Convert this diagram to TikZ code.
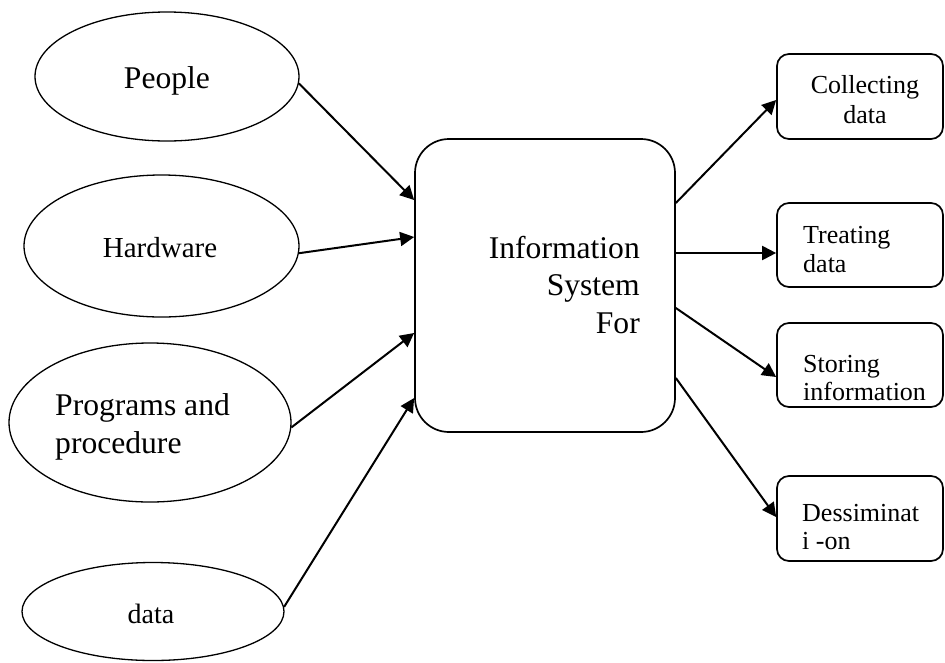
\documentclass[tikz,border=0pt]{standalone}
\usepackage{fontspec}
\setmainfont{Liberation Serif}
\usetikzlibrary{shapes.geometric,arrows.meta}
\begin{document}
\begin{tikzpicture}[x=1pt,y=-1pt,
  oval/.style={draw,ellipse,line width=1.3pt,inner sep=0pt},
  rbox/.style={draw,rectangle,rounded corners=12pt,line width=1.7pt,inner sep=0pt,minimum width=166pt},
  cbox/.style={draw,rectangle,rounded corners=34pt,line width=1.7pt,inner sep=0pt},
  arr/.style={line width=2pt,-{Triangle[length=14pt,width=14pt]}},
  big/.style={font=\fontsize{31.6}{37}\selectfont,inner sep=0pt},
  mid/.style={font=\fontsize{29}{34}\selectfont,inner sep=0pt},
  small/.style={font=\fontsize{26}{30}\selectfont,inner sep=0pt}]
\useasboundingbox (0,0) rectangle (945,662);
% left ellipses
\node[oval,minimum width=264pt,minimum height=129pt] (people) at (167,76.5) {};
\node[oval,minimum width=275pt,minimum height=142pt] (hw) at (161.5,246) {};
\node[oval,minimum width=282pt,minimum height=159pt] (prog) at (150,422.5) {};
\node[oval,minimum width=262pt,minimum height=98pt] (data) at (153,611.5) {};
\node[big,anchor=base] (tpeople) at (167,88) {People};
\node[mid,anchor=base] (thw) at (160,257) {Hardware};
\node[big,anchor=base west] (tprog1) at (55,415) {Programs and};
\node[big,anchor=base west] (tprog2) at (55,453) {procedure};
\node[mid,font=\fontsize{28}{32}\selectfont,anchor=base] (tdata) at (151,623) {data};
% central box
\node[cbox,minimum width=260pt,minimum height=293pt] (isys) at (545,285.5) {};
\node[big,anchor=base east] (tis1) at (640,258) {Information};
\node[big,anchor=base east] (tis2) at (640,295) {System};
\node[big,anchor=base east] (tis3) at (640,333) {For};
% right boxes
\node[rbox,minimum height=85pt] (coll) at (860,96.5) {};
\node[rbox,minimum height=84pt] (treat) at (860,245) {};
\node[rbox,minimum height=84pt] (stor) at (860,365) {};
\node[rbox,minimum height=85pt] (dess) at (860,518.5) {};
\node[small,anchor=base] (tcoll1) at (865,93) {Collecting};
\node[small,anchor=base] (tcoll2) at (865,123) {data};
\node[small,anchor=base west] (ttreat1) at (803,243) {Treating};
\node[small,anchor=base west] (ttreat2) at (803,272) {data};
\node[small,anchor=base west] (tstor1) at (803,372) {Storing};
\node[small,anchor=base west] (tstor2) at (803,400) {information};
\node[small,anchor=base west] (tdess1) at (802,521) {Dessiminat};
\node[small,anchor=base west] (tdess2) at (802,549) {i -on};
% arrows in
\draw[arr] (people.-3) -- ([yshift=85.5pt]isys.west);
\draw[arr] (hw.-3) -- ([yshift=48.5pt]isys.west);
\draw[arr] (prog.-2) -- ([yshift=-47.5pt]isys.west);
\draw[arr] (data.2) -- ([yshift=-112.5pt]isys.west);
% arrows out
\draw[arr] ([yshift=82.5pt]isys.east) -- ([yshift=-3.5pt]coll.west);
\draw[arr] ([yshift=32.5pt]isys.east) -- ([yshift=-8pt]treat.west);
\draw[arr] ([yshift=-22.5pt]isys.east) -- ([yshift=-12pt]stor.west);
\draw[arr] ([yshift=-92.5pt]isys.east) -- ([yshift=1.5pt]dess.west);
\end{tikzpicture}
\end{document}
